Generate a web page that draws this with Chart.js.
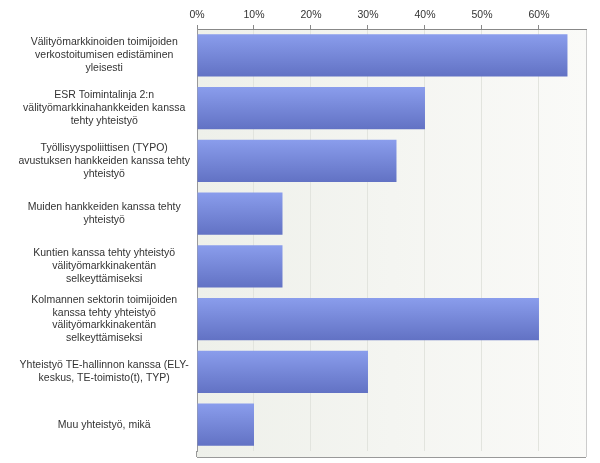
<!DOCTYPE html>
<html>
<head>
<meta charset="utf-8">
<script src="https://cdn.jsdelivr.net/npm/chart.js@4.4.0/dist/chart.umd.min.js"></script>
<style>
  html, body { margin: 0; padding: 0; background: #fff; }
  #wrap { width: 600px; height: 463px; }
</style>
</head>
<body>
<div id="wrap"><canvas id="barChart" width="600" height="463"></canvas></div>
<script>
const labels = [
  ['Välityömarkkinoiden toimijoiden', 'verkostoitumisen edistäminen', 'yleisesti'],
  ['ESR Toimintalinja 2:n', 'välityömarkkinahankkeiden kanssa', 'tehty yhteistyö'],
  ['Työllisyyspoliittisen (TYPO)', 'avustuksen hankkeiden kanssa tehty', 'yhteistyö'],
  ['Muiden hankkeiden kanssa tehty', 'yhteistyö'],
  ['Kuntien kanssa tehty yhteistyö', 'välityömarkkinakentän', 'selkeyttämiseksi'],
  ['Kolmannen sektorin toimijoiden', 'kanssa tehty yhteistyö', 'välityömarkkinakentän', 'selkeyttämiseksi'],
  ['Yhteistyö TE-hallinnon kanssa (ELY-', 'keskus, TE-toimisto(t), TYP)'],
  ['Muu yhteistyö, mikä']
];
const percents = [65, 40, 35, 15, 15, 60, 30, 10];
const tickValues = [0, 10, 20, 30, 40, 50, 60];
const xMax = 68.25;

const barPct = 0.8;

// vertical gradient per bar
function barFill(ctx) {
  const chart = ctx.chart;
  const y = chart.scales.y;
  if (!y || !chart.chartArea) return '#7a8ad8';
  const c = y.getPixelForValue(ctx.dataIndex);
  const half = (chart.chartArea.bottom - chart.chartArea.top) / labels.length * barPct / 2;
  const g = chart.ctx.createLinearGradient(0, c - half, 0, c + half);
  g.addColorStop(0, '#8a9dec');
  g.addColorStop(1, '#6272c4');
  return g;
}

const plotBg = {
  id: 'plotBg',
  beforeDraw(chart) {
    const a = chart.chartArea;
    const ctx = chart.ctx;
    const bottom = a.bottom + 6;
    ctx.save();
    const g = ctx.createLinearGradient(a.left, 0, a.right, 0);
    g.addColorStop(0, '#eef0ea');
    g.addColorStop(1, '#fafaf8');
    ctx.fillStyle = g;
    ctx.fillRect(a.left, a.top, a.right - a.left, bottom - a.top);
    ctx.strokeStyle = '#cccccc';
    ctx.lineWidth = 1;
    ctx.beginPath();
    ctx.moveTo(a.right + 0.5, a.top);
    ctx.lineTo(a.right + 0.5, bottom);
    ctx.stroke();
    ctx.strokeStyle = '#999999';
    ctx.beginPath();
    ctx.moveTo(a.left, bottom + 0.5);
    ctx.lineTo(a.right, bottom + 0.5);
    ctx.moveTo(a.left - 0.5, a.bottom);
    ctx.lineTo(a.left - 0.5, bottom);
    ctx.stroke();
    ctx.restore();
  }
};

const ctx = document.getElementById('barChart').getContext('2d');
new Chart(ctx, {
  type: 'bar',
  data: {
    labels: labels,
    datasets: [{
      data: percents,
      backgroundColor: barFill,
      borderWidth: 0,
      barPercentage: barPct,
      categoryPercentage: 1
    }]
  },
  options: {
    indexAxis: 'y',
    responsive: false,
    animation: false,
    devicePixelRatio: 1,
    layout: { padding: { left: 6, right: 14, top: 0, bottom: 12 } },
    plugins: {
      legend: { display: false },
      tooltip: { enabled: false }
    },
    scales: {
      x: {
        position: 'top',
        min: 0,
        max: xMax,
        afterBuildTicks: (s) => { s.ticks = tickValues.map(v => ({ value: v })); },
        afterFit: (s) => { s.height = 29; s.paddingLeft = 0; s.paddingRight = 0; },
        ticks: {
          callback: (v) => v + '%',
          color: '#333333',
          font: { family: 'Liberation Sans, Arial, sans-serif', size: 10.5 },
          padding: 4,
          maxRotation: 0
        },
        grid: {
          color: '#e2e4de',
          tickColor: '#888888',
          tickLength: 4
        },
        border: { color: '#888888' }
      },
      y: {
        afterFit: (s) => { s.width = 191; s.paddingTop = 0; s.paddingBottom = 0; },
        ticks: {
          autoSkip: false,
          crossAlign: 'center',
          color: '#333333',
          font: { family: 'Liberation Sans, Arial, sans-serif', size: 10.5, lineHeight: 1.22 },
          padding: 7
        },
        grid: { display: false, drawTicks: false },
        border: { color: '#999999' }
      }
    }
  },
  plugins: [plotBg]
});
</script>
</body>
</html>
